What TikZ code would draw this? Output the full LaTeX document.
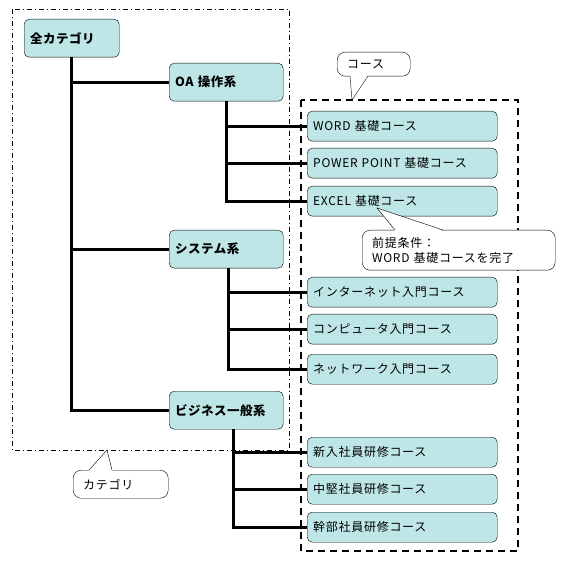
\documentclass[tikz,border=0pt]{standalone}
\usepackage{fontspec}
\setmainfont{Noto Sans CJK JP}
\definecolor{boxfill}{RGB}{190,230,230}
\begin{document}
\begin{tikzpicture}[x=1pt,y=-1pt,
  catbox/.style={draw=black, fill=boxfill, rounded corners=5pt, minimum height=38pt,
    text width=#1, inner xsep=6pt, align=left, anchor=north west,
    font=\fontsize{12.5}{14}\selectfont\bfseries\addfontfeature{LetterSpace=4}},
  crsbox/.style={draw=black, fill=boxfill, rounded corners=5pt, minimum height=30pt,
    text width=178pt, inner xsep=6pt, align=left, anchor=north west,
    font=\fontsize{12}{14}\selectfont\addfontfeature{LetterSpace=6}},
  tree/.style={line width=3pt},
  callbox/.style={draw=black, fill=white, rounded corners=8pt, anchor=north west,
    align=left, inner xsep=10pt, font=\fontsize{12}{15}\selectfont\addfontfeature{LetterSpace=6}},
  tail/.style={draw=black, fill=white}
]
\useasboundingbox (0,0) rectangle (565,561);
% group frames
\draw[line width=0.8pt, dash pattern=on 5pt off 3pt on 1pt off 3pt] (12,9) rectangle (289,450);
\draw[line width=2pt, dash pattern=on 7pt off 5pt] (301,100) rectangle (518,551);

% category nodes
\node[catbox=83pt] (all) at (24,19) {全カテゴリ};
\node[catbox=102pt] (oa) at (169,63) {OA 操作系};
\node[catbox=102pt] (sys) at (169,230) {システム系};
\node[catbox=102pt] (biz) at (169,391) {ビジネス一般系};

% course nodes
\node[crsbox] (word) at (307,111) {WORD 基礎コース};
\node[crsbox] (pp) at (307,148) {POWER POINT 基礎コース};
\node[crsbox] (excel) at (307,186) {EXCEL 基礎コース};
\node[crsbox] (inet) at (307,277) {インターネット入門コース};
\node[crsbox] (comp) at (307,314) {コンピュータ入門コース};
\node[crsbox] (net) at (307,354) {ネットワーク入門コース};
\node[crsbox] (new) at (307,437) {新入社員研修コース};
\node[crsbox] (mid) at (307,474) {中堅社員研修コース};
\node[crsbox] (exec) at (307,512) {幹部社員研修コース};

% tree connectors
\draw[tree] (all.south) -- (all.south |- biz.west) -- (biz.west);
\draw[tree] (all.south |- oa.west) -- (oa.west);
\draw[tree] (all.south |- sys.west) -- (sys.west);

\draw[tree] (oa.south) -- (oa.south |- excel.west) -- (excel.west);
\draw[tree] (oa.south |- word.west) -- (word.west);
\draw[tree] (oa.south |- pp.west) -- (pp.west);

\draw[tree] ([xshift=2pt]sys.south) -- ([xshift=2pt]sys.south |- net.west) -- (net.west);
\draw[tree] ([xshift=2pt]sys.south |- inet.west) -- (inet.west);
\draw[tree] ([xshift=2pt]sys.south |- comp.west) -- (comp.west);

\draw[tree] ([xshift=7pt]biz.south) -- ([xshift=7pt]biz.south |- exec.west) -- (exec.west);
\draw[tree] ([xshift=7pt]biz.south |- new.west) -- (new.west);
\draw[tree] ([xshift=7pt]biz.south |- mid.west) -- (mid.west);

% callouts
\node[callbox, text width=53pt, minimum height=24pt] (cco) at (337,52) {コース};
\coordinate (ccotip) at (352,100);
\fill[white] (350,75) -- (ccotip) -- (368,75) -- cycle;
\draw (350,76) -- (ccotip) -- (368,76);

\node[callbox, text width=173pt, minimum height=40pt, inner ysep=2pt] (pre) at (362,230) {前提条件：\\WORD 基礎コースを完了};
\coordinate (pretip) at (377,208);
\fill[white] (395,231) -- (pretip) -- (443,231) -- cycle;
\draw (395,230) -- (pretip) -- (443,230);

\node[callbox, text width=75pt, minimum height=28pt] (cat) at (73,470) {カテゴリ};
\coordinate (cattip) at (107,450);
\fill[white] (89,471) -- (cattip) -- (112,471) -- cycle;
\draw (89,470) -- (cattip) -- (112,470);
\end{tikzpicture}
\end{document}
